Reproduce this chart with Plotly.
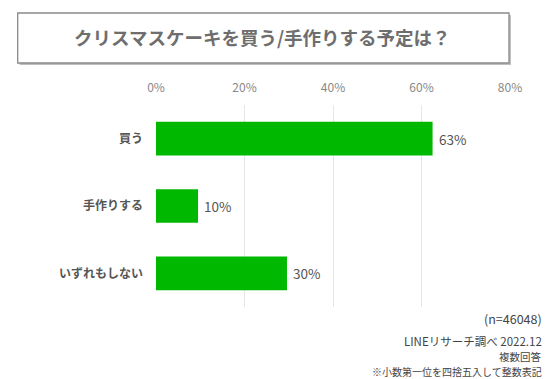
import plotly.graph_objects as go

categories = ["買う", "手作りする", "いずれもしない"]
values = [62.5, 9.5, 29.6]
value_labels = ["63%", "10%", "30%"]
tick_vals = [0, 20, 40, 60, 80]
tick_text = ["0%", "20%", "40%", "60%", "80%"]
title_text = "クリスマスケーキを買う/手作りする予定は？"
notes = ["(n=46048)", "LINEリサーチ調べ 2022.12", "複数回答", "※小数第一位を四捨五入して整数表記"]

OFF = 8  # page body margin
W, H = 560 - OFF, 379 - OFF
L, R, T, B = 155.5 - OFF, 50, 105 - OFF, 72
pw = W - L - R
ph = H - T - B

def px(x):
    return (x - OFF - L) / pw

def py(y):
    return 1 - (y - OFF - T) / ph

FONT = "Noto Sans CJK JP"

fig = go.Figure(go.Bar(
    x=values, y=categories, orientation="h",
    marker=dict(color="#00B800", line=dict(width=0)),
    width=0.5, hoverinfo="skip",
))

shapes = [
    dict(type="rect", xref="paper", yref="paper",
         x0=px(19), x1=px(511), y0=py(15), y1=py(65),
         fillcolor="rgba(0,0,0,0.25)", line=dict(width=0), layer="above"),
    dict(type="rect", xref="paper", yref="paper",
         x0=px(17), x1=px(509), y0=py(13), y1=py(63),
         fillcolor="white", line=dict(color="#8a8a8a", width=1.3), layer="above"),
]

annotations = [
    dict(text=title_text, xref="paper", yref="paper", x=px(262), y=py(37),
         xanchor="center", yanchor="middle", showarrow=False,
         font=dict(family=FONT, size=18.5, color="#6e6e6e", weight="bold")),
]
for v, c, lab in zip(values, categories, value_labels):
    annotations.append(dict(text=lab, x=v, y=c, xref="x", yref="y",
                            xanchor="left", yanchor="middle", xshift=4, showarrow=False,
                            font=dict(family=FONT, size=13.5, color="#555555")))
note_y = [318, 341, 356, 371]
note_size = [12.5, 11.5, 10.5, 10]
for t, yy, sz in zip(notes, note_y, note_size):
    annotations.append(dict(text=t, xref="paper", yref="paper", x=px(544), y=py(yy),
                            xanchor="right", yanchor="middle", showarrow=False,
                            font=dict(family=FONT, size=sz, color="#444444")))

fig.update_layout(
    width=W, height=H,
    margin=dict(l=L, r=R, t=T, b=B, pad=0),
    paper_bgcolor="white", plot_bgcolor="white",
    showlegend=False,
    shapes=shapes, annotations=annotations,
    xaxis=dict(range=[0, 80], side="top", tickvals=tick_vals, ticktext=tick_text,
               showgrid=True, gridcolor="#e6e6e6", gridwidth=1, zeroline=False,
               showline=False, ticks="", ticklabelstandoff=10,
               tickfont=dict(family=FONT, size=12, color="#888888")),
    yaxis=dict(autorange="reversed", showgrid=False, showline=False, ticks="",
               ticklabelstandoff=12,
               tickfont=dict(family=FONT, size=12, color="#555555", weight="bold")),
)

fig.write_html("out.html")
